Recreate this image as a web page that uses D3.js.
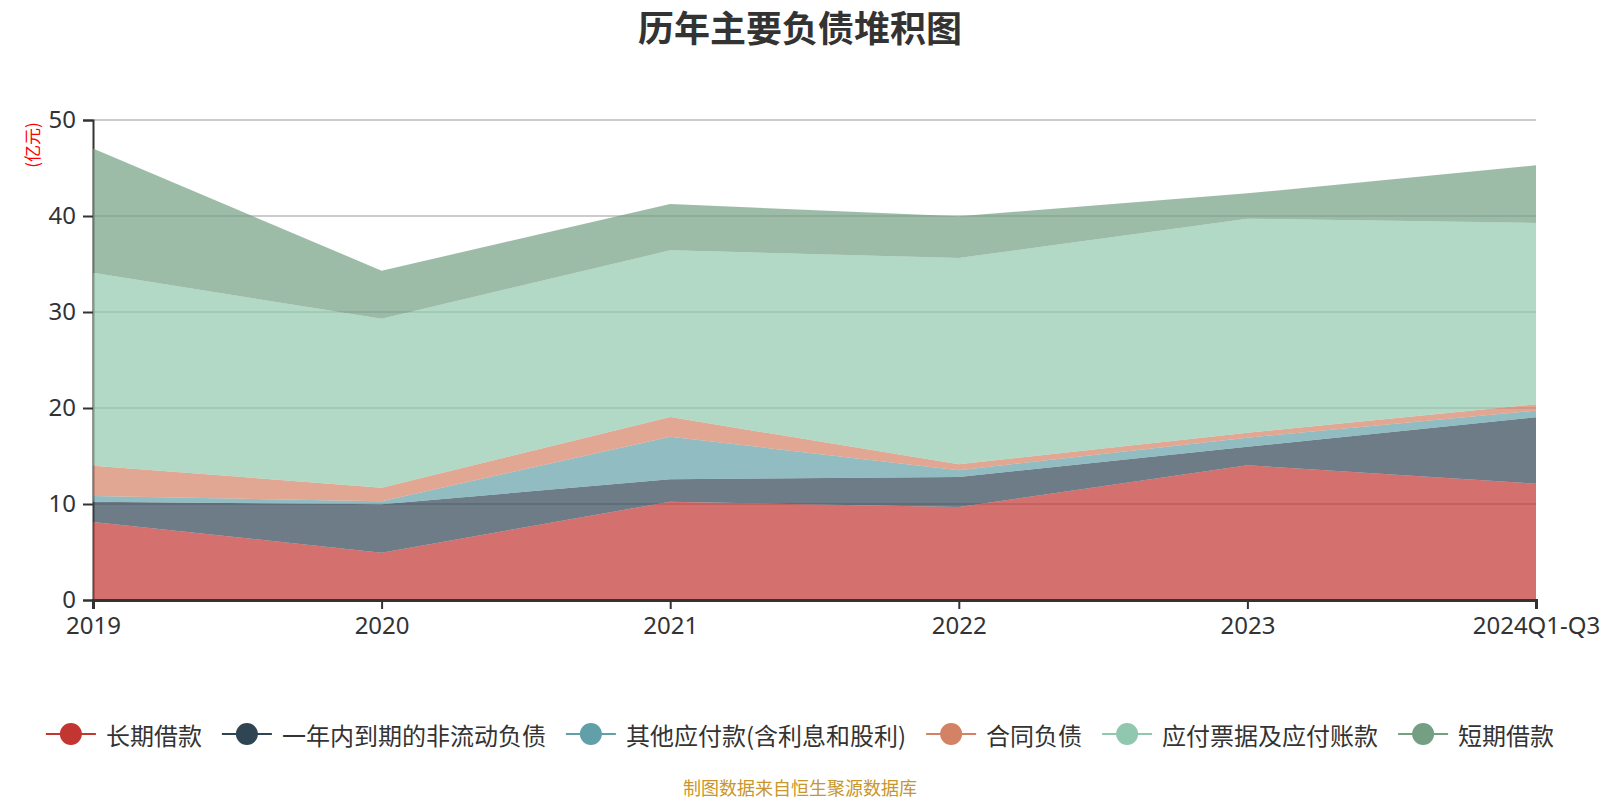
<!DOCTYPE html>
<html>
<head>
<meta charset="utf-8">
<script src="https://cdn.jsdelivr.net/npm/d3@7"></script>
<style>
  html, body { margin: 0; padding: 0; background: #fff; }
  svg { display: block; font-family: "Noto Sans CJK SC", "Noto Sans", sans-serif; }
</style>
</head>
<body>
<svg id="chart" width="1600" height="800"></svg>
<script>
// ---- data ----
const categories = ["2019", "2020", "2021", "2022", "2023", "2024Q1-Q3"];
const seriesNames = ["长期借款", "一年内到期的非流动负债", "其他应付款(含利息和股利)", "合同负债", "应付票据及应付账款", "短期借款"];
const longTermLoans    = [8.13, 4.93, 10.24, 9.69, 14.03, 12.12];
const currentNonCurrent = [2.11, 5.04, 2.33, 3.12, 1.94, 6.91];
const otherPayables    = [0.59, 0.31, 4.44, 0.70, 0.94, 0.69];
const contractLiab     = [3.16, 1.42, 2.05, 0.62, 0.52, 0.66];
const notesPayables    = [20.10, 17.60, 17.36, 21.50, 22.29, 18.89];
const shortTermLoans   = [12.95, 5.00, 4.83, 4.34, 2.64, 6.01];
const yTicks = [0, 10, 20, 30, 40, 50];
const seriesColors = ["#c23531", "#2f4554", "#61a0a8", "#d48265", "#91c7ae", "#749f83"];

const seriesValues = [longTermLoans, currentNonCurrent, otherPayables, contractLiab, notesPayables, shortTermLoans];

(function () {
const svg = d3.select("#chart");
const mLeft = 93, mRight = 1536, mTop = 120, mBottom = 600;

const x = d3.scalePoint().domain(categories).range([mLeft, mRight]);
const y = d3.scaleLinear().domain([0, 50]).range([mBottom, mTop]);

// table for stack
const table = categories.map((c, i) => {
  const row = { cat: c };
  seriesNames.forEach((s, k) => row[s] = seriesValues[k][i]);
  return row;
});
const stacked = d3.stack().keys(seriesNames)(table);

// title
svg.append("text")
  .attr("x", 800).attr("y", 26)
  .attr("text-anchor", "middle").attr("dominant-baseline", "central")
  .attr("font-size", 36).attr("font-weight", "bold").attr("fill", "#333")
  .text("历年主要负债堆积图");

// gridlines
svg.append("g").selectAll("line").data(yTicks.filter(d => d > 0)).join("line")
  .attr("x1", mLeft).attr("x2", mRight)
  .attr("y1", d => y(d)).attr("y2", d => y(d))
  .attr("stroke", "#ccc").attr("stroke-width", 2);

// y axis
const yAxis = svg.append("g").attr("transform", `translate(${mLeft},0)`)
  .call(d3.axisLeft(y).tickValues(yTicks).tickSize(10).tickPadding(7));
yAxis.select(".domain").attr("stroke", "#333").attr("stroke-width", 2);
yAxis.selectAll(".tick line").attr("stroke", "#333").attr("stroke-width", 2);
yAxis.selectAll(".tick text").attr("font-size", 24).attr("fill", "#333")
  .attr("font-family", "'Noto Sans', sans-serif");

// areas
const area = d3.area()
  .x((d, i) => x(categories[i]))
  .y0(d => y(d[0]))
  .y1(d => y(d[1]));
svg.append("g").selectAll("path").data(stacked).join("path")
  .attr("d", d => area(d))
  .attr("fill", (d, i) => seriesColors[i])
  .attr("fill-opacity", 0.7);

// x axis
const xAxis = svg.append("g").attr("transform", `translate(0,${mBottom})`)
  .call(d3.axisBottom(x).tickSize(9).tickPadding(8));
xAxis.select(".domain").attr("stroke", "#333").attr("stroke-width", 3);
xAxis.selectAll(".tick line").attr("stroke", "#333").attr("stroke-width", 2);
xAxis.selectAll(".tick text").attr("font-size", 24).attr("fill", "#333")
  .attr("font-family", "'Noto Sans', sans-serif");

// y axis unit label
svg.append("text")
  .attr("transform", "translate(31,145) rotate(-90)")
  .attr("text-anchor", "middle").attr("dominant-baseline", "central")
  .attr("font-size", 17).attr("fill", "#ff0000")
  .text("(亿元)");

// legend
const legend = svg.append("g");
const fs = 24, iconW = 50, iconToText = 60, gap = 20, ly = 734;
const items = legend.selectAll("g.item").data(seriesNames).join("g").attr("class", "item");
items.append("line").attr("x1", 0).attr("x2", iconW).attr("y1", ly).attr("y2", ly)
  .attr("stroke", (d, i) => seriesColors[i]).attr("stroke-width", 2);
items.append("circle").attr("cx", iconW / 2).attr("cy", ly).attr("r", 11)
  .attr("fill", (d, i) => seriesColors[i]);
items.append("text").attr("x", iconToText).attr("y", ly)
  .attr("dominant-baseline", "central").attr("font-size", fs).attr("fill", "#333")
  .text(d => d);
const widths = [];
items.each(function () { widths.push(iconToText + d3.select(this).select("text").node().getComputedTextLength()); });
const total = d3.sum(widths) + gap * (widths.length - 1);
let cx = 800 - total / 2;
items.each(function (d, i) {
  d3.select(this).attr("transform", `translate(${cx},0)`);
  cx += widths[i] + gap;
});

// footer
svg.append("text")
  .attr("x", 800).attr("y", 787)
  .attr("text-anchor", "middle").attr("dominant-baseline", "central")
  .attr("font-size", 18).attr("fill", "#c9962b")
  .text("制图数据来自恒生聚源数据库");
})();
</script>
</body>
</html>
